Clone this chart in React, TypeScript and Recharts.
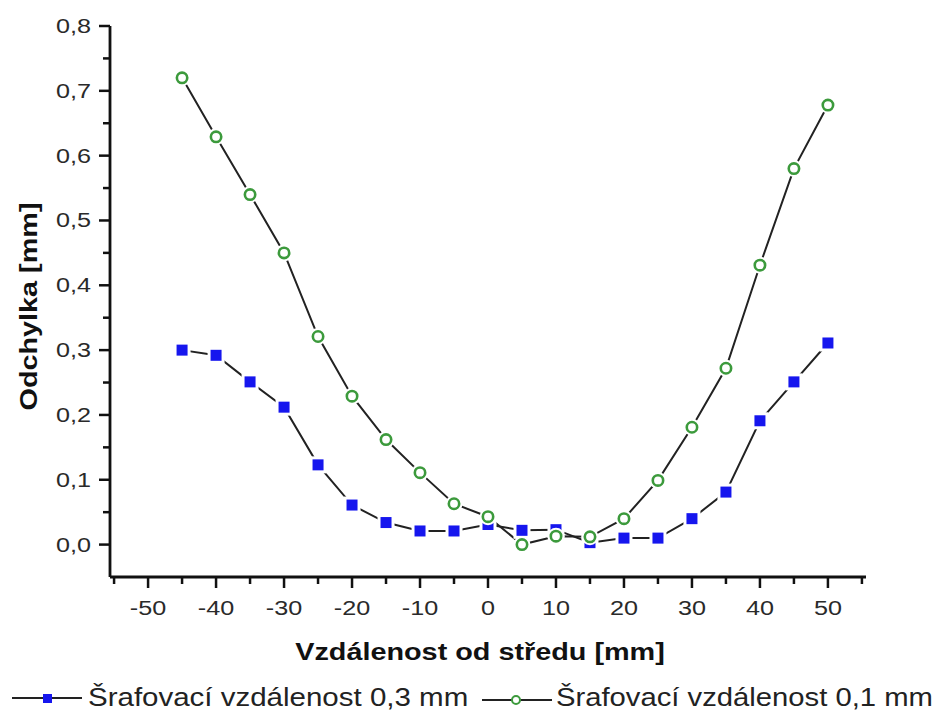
import React from "react";
import { LineChart, Line, XAxis, YAxis, Legend, Label } from "recharts";

// positions along the sample [mm]
const positions = [-45, -40, -35, -30, -25, -20, -15, -10, -5, 0, 5, 10, 15, 20, 25, 30, 35, 40, 45, 50];
// deviation for hatching distance 0,3 mm
const dev03 = [0.3, 0.292, 0.251, 0.212, 0.123, 0.061, 0.034, 0.021, 0.021, 0.031, 0.022, 0.023, 0.003, 0.01, 0.01, 0.04, 0.081, 0.191, 0.251, 0.311];
// deviation for hatching distance 0,1 mm
const dev01 = [0.72, 0.629, 0.54, 0.45, 0.321, 0.229, 0.162, 0.111, 0.063, 0.043, 0.0, 0.013, 0.012, 0.04, 0.099, 0.181, 0.272, 0.431, 0.58, 0.678];

const xTicks = [-55, -50, -45, -40, -35, -30, -25, -20, -15, -10, -5, 0, 5, 10, 15, 20, 25, 30, 35, 40, 45, 50, 55];
const xMajor = [-50, -40, -30, -20, -10, 0, 10, 20, 30, 40, 50];
const yTicks = [0, 0.05, 0.1, 0.15, 0.2, 0.25, 0.3, 0.35, 0.4, 0.45, 0.5, 0.55, 0.6, 0.65, 0.7, 0.75, 0.8];
const yMajor = [0, 0.1, 0.2, 0.3, 0.4, 0.5, 0.6, 0.7, 0.8];

const seriesNames = ["Šrafovací vzdálenost 0,3 mm", "Šrafovací vzdálenost 0,1 mm"];
const xTitle = "Vzdálenost od středu [mm]";
const yTitle = "Odchylka [mm]";

const rows = positions.map((x, i) => ({ x, a: dev03[i], b: dev01[i] }));

const FONT = "'Liberation Sans', Arial, sans-serif";
const STRETCH = 1.2;
const BLUE = "#1616ee";
const GREEN = "#3c9a3c";
const AXIS = "#111";

const XTick = (props: any) => {
  const { x, y, payload } = props;
  const v = payload.value;
  const major = xMajor.includes(v);
  return (
    <g>
      <line x1={x} x2={x} y1={y} y2={y + (major ? 11 : 7)} stroke={AXIS} strokeWidth={2.5} />
      {major && (
        <g transform={`translate(${x},${y + 38}) scale(${STRETCH},1)`}>
          <text textAnchor="middle" fontSize={21} fill="#2a2a2a" fontFamily={FONT}>{v}</text>
        </g>
      )}
    </g>
  );
};

const YTick = (props: any) => {
  const { x, y, payload } = props;
  const v = payload.value;
  const major = yMajor.includes(v);
  return (
    <g>
      <line x1={x} x2={x - (major ? 11 : 7)} y1={y} y2={y} stroke={AXIS} strokeWidth={2.5} />
      {major && (
        <g transform={`translate(${x - 19},${y + 7}) scale(${STRETCH},1)`}>
          <text textAnchor="end" fontSize={21} fill="#2a2a2a" fontFamily={FONT}>
            {v.toFixed(1).replace(".", ",")}
          </text>
        </g>
      )}
    </g>
  );
};

const XTitle = (props: any) => {
  const vb = props.viewBox;
  return (
    <g transform={`translate(${vb.x + vb.width / 2 - 8},${vb.y + 83}) scale(${STRETCH},1)`}>
      <text textAnchor="middle" fontSize={24} fontWeight="bold" fill="#111" fontFamily={FONT}>{xTitle}</text>
    </g>
  );
};

const YTitle = (props: any) => {
  const vb = props.viewBox;
  return (
    <g transform={`translate(37,${vb.y + vb.height / 2 + 5}) rotate(-90) scale(${STRETCH},1)`}>
      <text textAnchor="middle" fontSize={24} fontWeight="bold" fill="#111" fontFamily={FONT}>{yTitle}</text>
    </g>
  );
};

const SquareDot = (props: any) => {
  const { cx, cy, index } = props;
  return (
    <g key={`sq-${index}`}>
      <rect x={cx - 8.5} y={cy - 8.5} width={17} height={17} fill="#fff" />
      <rect x={cx - 5.5} y={cy - 5.5} width={11} height={11} fill={BLUE} />
    </g>
  );
};

const CircleDot = (props: any) => {
  const { cx, cy, index } = props;
  return (
    <g key={`ci-${index}`}>
      <circle cx={cx} cy={cy} r={8.5} fill="#fff" />
      <circle cx={cx} cy={cy} r={5.2} fill="#fff" stroke={GREEN} strokeWidth={2.6} />
    </g>
  );
};

const LegendContent = () => (
  <svg width={942} height={40}>
    <line x1={12} x2={82} y1={18} y2={18} stroke="#222" strokeWidth={2} />
    <rect x={43} y={14} width={9} height={9} fill={BLUE} />
    <g transform={`translate(88,26) scale(1.18,1)`}>
      <text fontSize={25} fill="#222" fontFamily={FONT}>{seriesNames[0]}</text>
    </g>
    <line x1={482} x2={552} y1={20} y2={20} stroke="#222" strokeWidth={2} />
    <circle cx={516} cy={20} r={4} fill="#fff" stroke={GREEN} strokeWidth={2} />
    <g transform={`translate(556,26) scale(1.17,1)`}>
      <text fontSize={25} fill="#222" fontFamily={FONT}>{seriesNames[1]}</text>
    </g>
  </svg>
);

export default function App() {
  return (
    <div style={{ position: "absolute", left: 0, top: 0, width: 942, height: 715, background: "#fff" }}>
      <LineChart width={942} height={715} data={rows} margin={{ top: 26, right: 76, bottom: 78, left: 50 }}>
        <XAxis
          dataKey="x"
          type="number"
          domain={[-55.6, 55.6]}
          ticks={xTicks}
          interval={0}
          tickSize={0}
          tickMargin={0}
          tickLine={false}
          tick={<XTick />}
          height={60}
          axisLine={{ stroke: AXIS, strokeWidth: 2.8 }}
          allowDataOverflow
        >
          <Label content={<XTitle />} />
        </XAxis>
        <YAxis
          type="number"
          domain={[-0.05, 0.8]}
          ticks={yTicks}
          interval={0}
          tickSize={0}
          tickMargin={0}
          tickLine={false}
          tick={<YTick />}
          width={60}
          axisLine={{ stroke: AXIS, strokeWidth: 2.8 }}
          allowDataOverflow
        >
          <Label content={<YTitle />} />
        </YAxis>
        <Legend
          layout="horizontal"
          verticalAlign="middle"
          align="center"
          content={<LegendContent />}
          wrapperStyle={{ left: 0, top: 680, width: 942 }}
        />
        <Line
          dataKey="a"
          name={seriesNames[0]}
          type="linear"
          stroke="#222"
          strokeWidth={2}
          dot={(p: any) => <SquareDot {...p} />}
          isAnimationActive={false}
        />
        <Line
          dataKey="b"
          name={seriesNames[1]}
          type="linear"
          stroke="#222"
          strokeWidth={2}
          dot={(p: any) => <CircleDot {...p} />}
          isAnimationActive={false}
        />
      </LineChart>
    </div>
  );
}
